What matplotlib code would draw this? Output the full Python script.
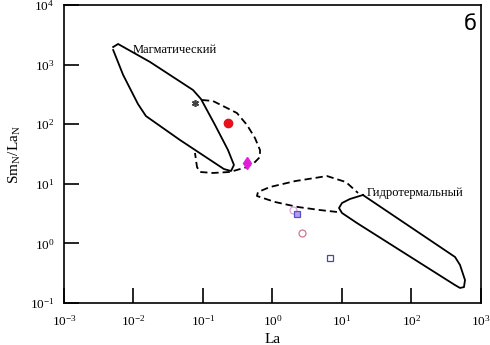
import matplotlib
matplotlib.use("Agg")
import matplotlib.pyplot as plt
from matplotlib.ticker import NullLocator

# ── Fonts ─────────────────────────────────────────────────────────────────────
plt.rcParams['font.family'] = ['Liberation Serif', 'DejaVu Serif']
plt.rcParams['mathtext.fontset'] = 'stix'

# ── Data ──────────────────────────────────────────────────────────────────────
# magmatic field (solid outline)
magm_la = [0.0051, 0.0060, 0.0173, 0.0718, 0.0935, 0.149, 0.229, 0.279,
           0.253, 0.200, 0.0467, 0.0151, 0.0116, 0.0071, 0.0051]
magm_sm = [1972, 2218, 1107, 375, 265, 97.0, 36.9, 20.7,
           16.4, 17.7, 54.3, 137, 218, 670, 1758]

# dashed continuation of the magmatic field
magd_la = [0.0968, 0.139, 0.194, 0.308, 0.430, 0.560, 0.661, 0.661,
           0.560, 0.430, 0.244, 0.139, 0.0906, 0.0820, 0.0767]
magd_sm = [255, 245, 202, 154, 97.0, 58.6, 36.9, 28.2,
           23.2, 19.1, 15.8, 15.2, 15.8, 19.1, 32.9]

# hydrothermal field (solid outline)
hydr_la = [20.0, 13.0, 10.0, 9.06, 10.0, 16.4, 423, 499, 569, 589, 499, 423, 20.0]
hydr_sm = [6.49, 5.56, 4.76, 3.93, 3.24, 2.20, 0.200, 0.179, 0.185, 0.243, 0.435, 0.592, 6.49]

# dashed field next to the hydrothermal one
hydd_la = [8.47, 4.82, 2.33, 1.09, 0.598, 0.618, 0.920, 2.11, 6.08, 11.4, 17.0]
hydd_sm = [3.37, 3.63, 4.08, 4.95, 6.24, 7.28, 8.83, 11.1, 13.5, 10.7, 7.02]

# samples
la_star, sm_star = [0.077], [230]
la_red, sm_red = [0.231], [103]
la_dia, sm_dia = [0.433], [22]
la_sq, sm_sq = [2.23], [3.08]
la_pk1, sm_pk1 = [1.95], [3.63]
la_pk2, sm_pk2 = [2.63], [1.51]
la_osq, sm_osq = [6.7], [0.56]

x_ticks = [1e-3, 1e-2, 1e-1, 1e0, 1e1, 1e2, 1e3]
y_ticks = [1e-1, 1e0, 1e1, 1e2, 1e3, 1e4]

# ── Figure ────────────────────────────────────────────────────────────────────
fig = plt.figure(figsize=(4.9, 3.45), dpi=100)
ax = fig.add_axes([0.1306, 0.1217, 0.8510, 0.8638])
ax.set_xscale('log')
ax.set_yscale('log')
ax.set_xlim(1e-3, 1e3)
ax.set_ylim(1e-1, 1e4)

lw = 1.3
ax.plot(magm_la, magm_sm, color='black', lw=lw, solid_joinstyle='round')
ax.plot(magd_la, magd_sm, color='black', lw=lw, ls=(0, (4, 2.2)))
ax.plot(hydr_la, hydr_sm, color='black', lw=lw, solid_joinstyle='round')
ax.plot(hydd_la, hydd_sm, color='black', lw=lw, ls=(0, (4, 2.2)))

ax.plot(la_star, sm_star, marker=(6, 2, 0), ms=5, color='#444444', mew=1.2, ls='none')
ax.plot(la_red, sm_red, marker='o', ms=6, color='#e8101a', ls='none')
ax.plot(la_dia, sm_dia, marker='d', ms=6.5, color='#e020d8', ls='none')
ax.plot(la_pk1, sm_pk1, marker='o', ms=5, mfc='none', mec='#e0a0e0', mew=0.9, ls='none')
ax.plot(la_sq, sm_sq, marker='s', ms=5, mfc='#b09cf0', mec='#5a50c8', mew=0.9, ls='none')
ax.plot(la_pk2, sm_pk2, marker='o', ms=5, mfc='none', mec='#d07890', mew=0.9, ls='none')
ax.plot(la_osq, sm_osq, marker='s', ms=5, mfc='none', mec='#4848a8', mew=0.9, ls='none')

# ── Text ──────────────────────────────────────────────────────────────────────
ax.text(0.0098, 1750, 'Магматический', fontsize=9, ha='left', va='center')
ax.text(23, 7.0, 'Гидротермальный', fontsize=9, ha='left', va='center')
ax.text(0.99, 0.97, 'б', transform=ax.transAxes, fontsize=15,
        family='DejaVu Sans', ha='right', va='top')

ax.set_xlabel('La', fontsize=11, labelpad=3)
ax.set_ylabel(r'Sm$_\mathregular{N}$/La$_\mathregular{N}$', fontsize=11, labelpad=5)

# ── Axes style ────────────────────────────────────────────────────────────────
ax.set_xticks(x_ticks)
ax.set_yticks(y_ticks)
ax.xaxis.set_minor_locator(NullLocator())
ax.yaxis.set_minor_locator(NullLocator())
for s in ax.spines.values():
    s.set_linewidth(1.2)
ax.tick_params(which='major', direction='in', length=11, width=1.2,
               labelsize=9.5, top=False, right=False)
ax.tick_params(axis='x', pad=8)
ax.tick_params(axis='y', pad=7)

fig.savefig('out.png', dpi=100)
